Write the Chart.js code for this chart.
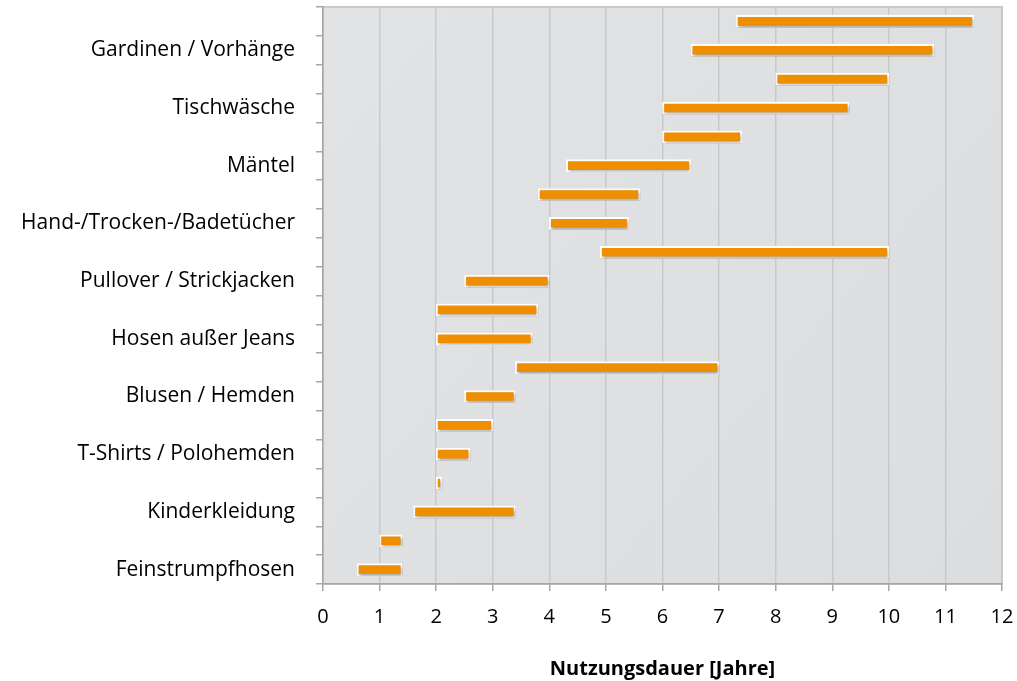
<!DOCTYPE html>
<html>
<head>
<meta charset="utf-8">
<script src="https://cdn.jsdelivr.net/npm/chart.js@4.4.1/dist/chart.umd.min.js"></script>
<style>
  html, body { margin: 0; padding: 0; background: #fff; }
  #wrap { width: 1017px; height: 681px; position: relative; }
</style>
</head>
<body>
<div id="wrap"><canvas id="myChart"></canvas></div>
<script>
// Produkte (jeweils zwei Angaben pro Produkt)
const produkte = [
  "Gardinen / Vorhänge",
  "Tischwäsche",
  "Mäntel",
  "Hand-/Trocken-/Badetücher",
  "Pullover / Strickjacken",
  "Hosen außer Jeans",
  "Blusen / Hemden",
  "T-Shirts / Polohemden",
  "Kinderkleidung",
  "Feinstrumpfhosen"
];
// Nutzungsdauer von / bis in Jahren, von oben nach unten
const vonJahre = [7.3, 6.5, 8.0, 6.0, 6.0, 4.3, 3.8, 4.0, 4.9, 2.5, 2.0, 2.0, 3.4, 2.5, 2.0, 2.0, 2.0, 1.6, 1.0, 0.6];
const bisJahre = [11.5, 10.8, 10.0, 9.3, 7.4, 6.5, 5.6, 5.4, 10.0, 4.0, 3.8, 3.7, 7.0, 3.4, 3.0, 2.6, 2.1, 3.4, 1.4, 1.4];
const xTicks = [0, 1, 2, 3, 4, 5, 6, 7, 8, 9, 10, 11, 12];

let labels = [];
produkte.forEach(p => { labels.push(p); labels.push(p); });
let ranges = vonJahre.map((v, i) => [v, bisJahre[i]]);

// grey plot background + frame
const plotBg = {
  id: "plotBg",
  beforeDraw(chart) {
    const a = chart.chartArea, ctx = chart.ctx;
    ctx.save();
    let g = ctx.createLinearGradient(a.left, a.top, a.right, a.bottom);
    g.addColorStop(0, "#e2e3e5");
    g.addColorStop(1, "#dcdddf");
    ctx.fillStyle = g;
    ctx.fillRect(a.left, a.top, a.right - a.left, a.bottom - a.top);
    ctx.strokeStyle = "#c9cacc";
    ctx.lineWidth = 2;
    ctx.strokeRect(a.left, a.top, a.right - a.left, a.bottom - a.top);
    ctx.restore();
  },
  beforeDatasetsDraw(chart) {
    const ctx = chart.ctx;
    ctx.save();
    ctx.shadowColor = "rgba(0,0,0,0.35)";
    ctx.shadowBlur = 3;
    ctx.shadowOffsetX = 1;
    ctx.shadowOffsetY = 2;
  },
  afterDatasetsDraw(chart) {
    chart.ctx.restore();
  }
};

const ctx = document.getElementById("myChart").getContext("2d");
const chart = new Chart(ctx, {
  type: "bar",
  data: {
    labels: labels,
    datasets: [{
      data: ranges,
      backgroundColor: "#ee8e00",
      borderColor: "#ffffff",
      borderWidth: 2,
      borderSkipped: false,
      barThickness: 12
    }]
  },
  plugins: [plotBg],
  options: {
    indexAxis: "y",
    responsive: true,
    maintainAspectRatio: false,
    animation: false,
    layout: { padding: { left: 0, right: 15, top: 7, bottom: 0 } },
    plugins: {
      legend: { display: false },
      tooltip: { enabled: false }
    },
    scales: {
      x: {
        min: 0,
        max: 12,
        afterBuildTicks: (scale) => { scale.ticks = xTicks.map(v => ({ value: v })); },
        afterFit: (scale) => { scale.height = 97; scale.paddingLeft = 0; scale.paddingRight = 0; },
        grid: { color: "#c8c9cb", lineWidth: 1.5, tickLength: 7, tickColor: "#a6a6a6" },
        border: { color: "#a6a6a6", width: 1.5 },
        ticks: { color: "#000", font: { family: "Open Sans", size: 20 }, padding: 14 },
        title: {
          display: true,
          text: "Nutzungsdauer [Jahre]",
          color: "#000",
          font: { family: "Open Sans", size: 20, weight: "bold" },
          padding: { top: 4, bottom: 0 }
        }
      },
      y: {
        afterFit: (scale) => { scale.width = 323; scale.paddingTop = 0; scale.paddingBottom = 0; },
        grid: { drawOnChartArea: false, drawTicks: true, tickLength: 7, color: "#a6a6a6", lineWidth: 1.5 },
        border: { color: "#a6a6a6", width: 1.5 },
        ticks: {
          autoSkip: false,
          color: "#000",
          padding: 21,
          font: { family: "Open Sans", size: 21 },
          callback: function (v, i) { return i % 2 === 1 ? this.getLabelForValue(v) : ""; }
        }
      }
    }
  }
});
</script>
</body>
</html>
